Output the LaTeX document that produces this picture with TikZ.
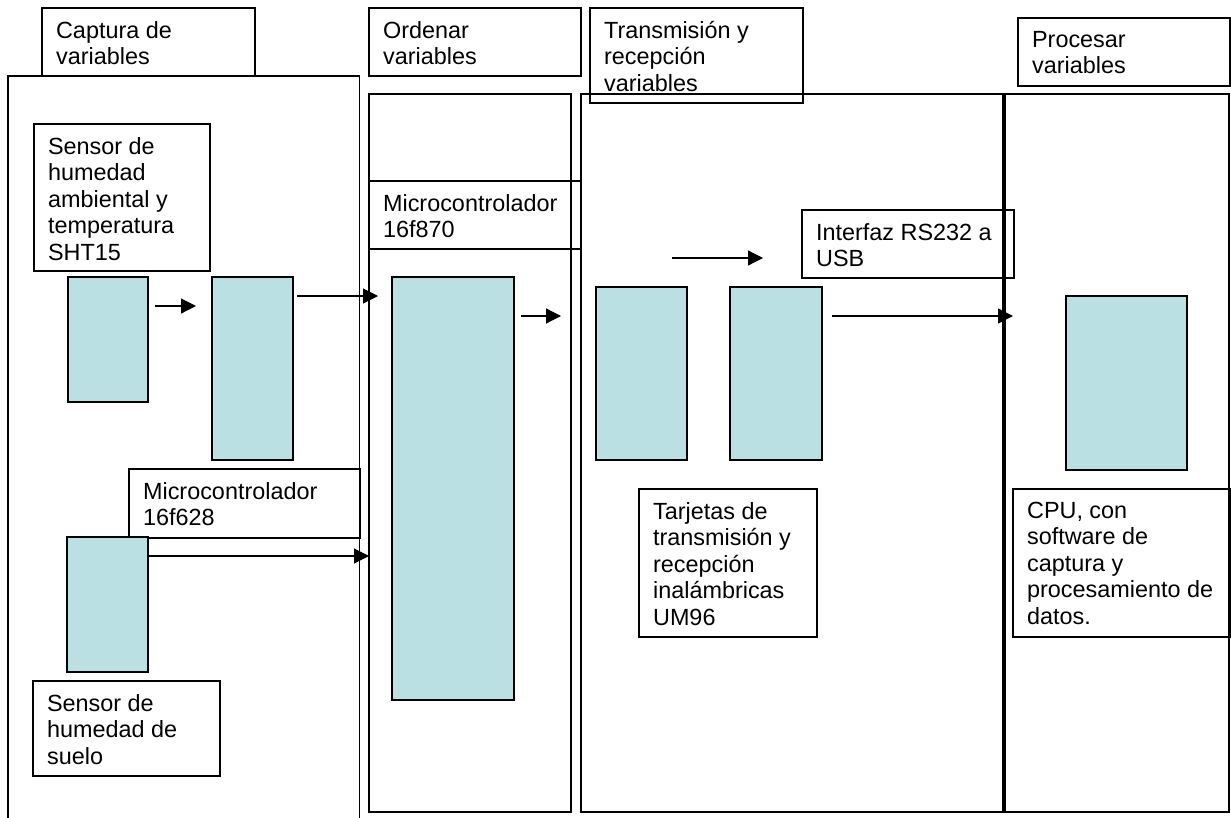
\documentclass[tikz,border=0pt]{standalone}
\usepackage{fontspec}
\setmainfont{Liberation Sans}
\usetikzlibrary{arrows.meta}
\definecolor{panel}{RGB}{187,224,227}
\begin{document}
\begin{tikzpicture}[x=1pt,y=-1pt,line width=1.2pt,
  frame/.style={draw=black,line width=1.2pt,inner sep=0pt,outer sep=0pt,anchor=north west},
  block/.style={frame,fill=panel},
  caption/.style={font=\fontsize{23.4}{26.5}\selectfont,align=left,inner sep=0pt,anchor=north west},
  flow/.style={-{Triangle[length=15pt,width=15pt]},line width=1.2pt}]
\useasboundingbox (0,0) rectangle (1231,817);

% ---- stage frames ----
\draw[line width=1.2pt] (8,830) -- (8,76) -- (359.5,76) -- (359.5,830);
\node[frame,minimum width=202pt,minimum height=718pt] (col2) at (369,94) {};
\node[frame,minimum width=422pt,minimum height=718pt] (col3) at (581,94) {};
\node[frame,minimum width=224pt,minimum height=718pt] (col4) at (1005,94) {};

% ---- stage titles ----
\node[frame,minimum width=213pt,minimum height=68pt] (capT) at (42,8) {};
\node[frame,minimum width=212pt,minimum height=68pt] (ordT) at (369,8) {};
\node[frame,minimum width=213pt,minimum height=95pt] (traT) at (590,8) {};
\node[frame,minimum width=212pt,minimum height=68pt] (proT) at (1018,18) {};

% ---- labelled boxes ----
\node[frame,minimum width=176pt,minimum height=147pt] (sht) at (34,124) {};
\node[frame,minimum width=231pt,minimum height=69pt] (m628) at (129,469) {};
\node[frame,minimum width=187pt,minimum height=95pt] (soil) at (33,681) {};
\node[frame,minimum width=212pt,minimum height=68pt] (m870) at (369,181) {};
\node[frame,minimum width=212pt,minimum height=68pt] (usb) at (802,210) {};
\node[frame,minimum width=178pt,minimum height=148pt] (um96) at (639,489) {};
\node[frame,minimum width=217pt,minimum height=148pt] (cpu) at (1013,489) {};

% ---- texts ----
\node[caption] (capTx) at ([xshift=13.5pt,yshift=-12.5pt]capT.north west) {Captura de\\variables};
\node[caption] (ordTx) at ([xshift=13.5pt,yshift=-12.5pt]ordT.north west) {Ordenar\\variables};
\node[caption] (traTx) at ([xshift=13.5pt,yshift=-12.5pt]traT.north west) {Transmisión y\\recepción\\variables};
\node[caption] (proTx) at ([xshift=13.5pt,yshift=-12.5pt]proT.north west) {Procesar\\variables};
\node[caption] (shtTx) at ([xshift=13.5pt,yshift=-12.5pt]sht.north west) {Sensor de\\humedad\\ambiental y\\temperatura\\SHT15};
\node[caption] (m628Tx) at ([xshift=13.5pt,yshift=-12.5pt]m628.north west) {Microcontrolador\\16f628};
\node[caption] (soilTx) at ([xshift=13.5pt,yshift=-12.5pt]soil.north west) {Sensor de\\humedad de\\suelo};
\node[caption] (m870Tx) at ([xshift=13.5pt,yshift=-12.5pt]m870.north west) {Microcontrolador\\16f870};
\node[caption] (usbTx) at ([xshift=13.5pt,yshift=-12.5pt]usb.north west) {Interfaz RS232 a\\USB};
\node[caption] (um96Tx) at ([xshift=13.5pt,yshift=-12.5pt]um96.north west) {Tarjetas de\\transmisión y\\recepción\\inalámbricas\\UM96};
\node[caption] (cpuTx) at ([xshift=13.5pt,yshift=-12.5pt]cpu.north west) {CPU, con\\software de\\captura y\\procesamiento de\\datos.};

% ---- hardware blocks ----
\node[block,minimum width=80pt,minimum height=125pt] (b1) at (68,277) {};
\node[block,minimum width=81pt,minimum height=183pt] (b2) at (212,277) {};
\node[block,minimum width=81pt,minimum height=135pt] (b3) at (67,537) {};
\node[block,minimum width=122pt,minimum height=423pt] (b4) at (392,277) {};
\node[block,minimum width=91pt,minimum height=173pt] (b5) at (596,287) {};
\node[block,minimum width=92pt,minimum height=173pt] (b6) at (730,287) {};
\node[block,minimum width=121pt,minimum height=174pt] (b7) at (1066,296) {};

% ---- signal flow ----
\coordinate (a1s) at (155,306);  \coordinate (a1e) at (196,306);
\coordinate (a2s) at (297,296);  \coordinate (a2e) at (378,296);
\coordinate (a3e) at (369,556);
\coordinate (a4s) at (521,316);  \coordinate (a4e) at (561,316);
\coordinate (a5s) at (672,258);  \coordinate (a5e) at (763,258);
\coordinate (a6s) at (832,316);  \coordinate (a6e) at (1013,316);
\draw[flow] (a1s) -- (a1e);
\draw[flow] (a2s) -- (a2e);
\draw[flow] (b3.east |- a3e) -- (a3e);
\draw[flow] (a4s) -- (a4e);
\draw[flow] (a5s) -- (a5e);
\draw[flow] (a6s) -- (a6e);
\end{tikzpicture}
\end{document}
